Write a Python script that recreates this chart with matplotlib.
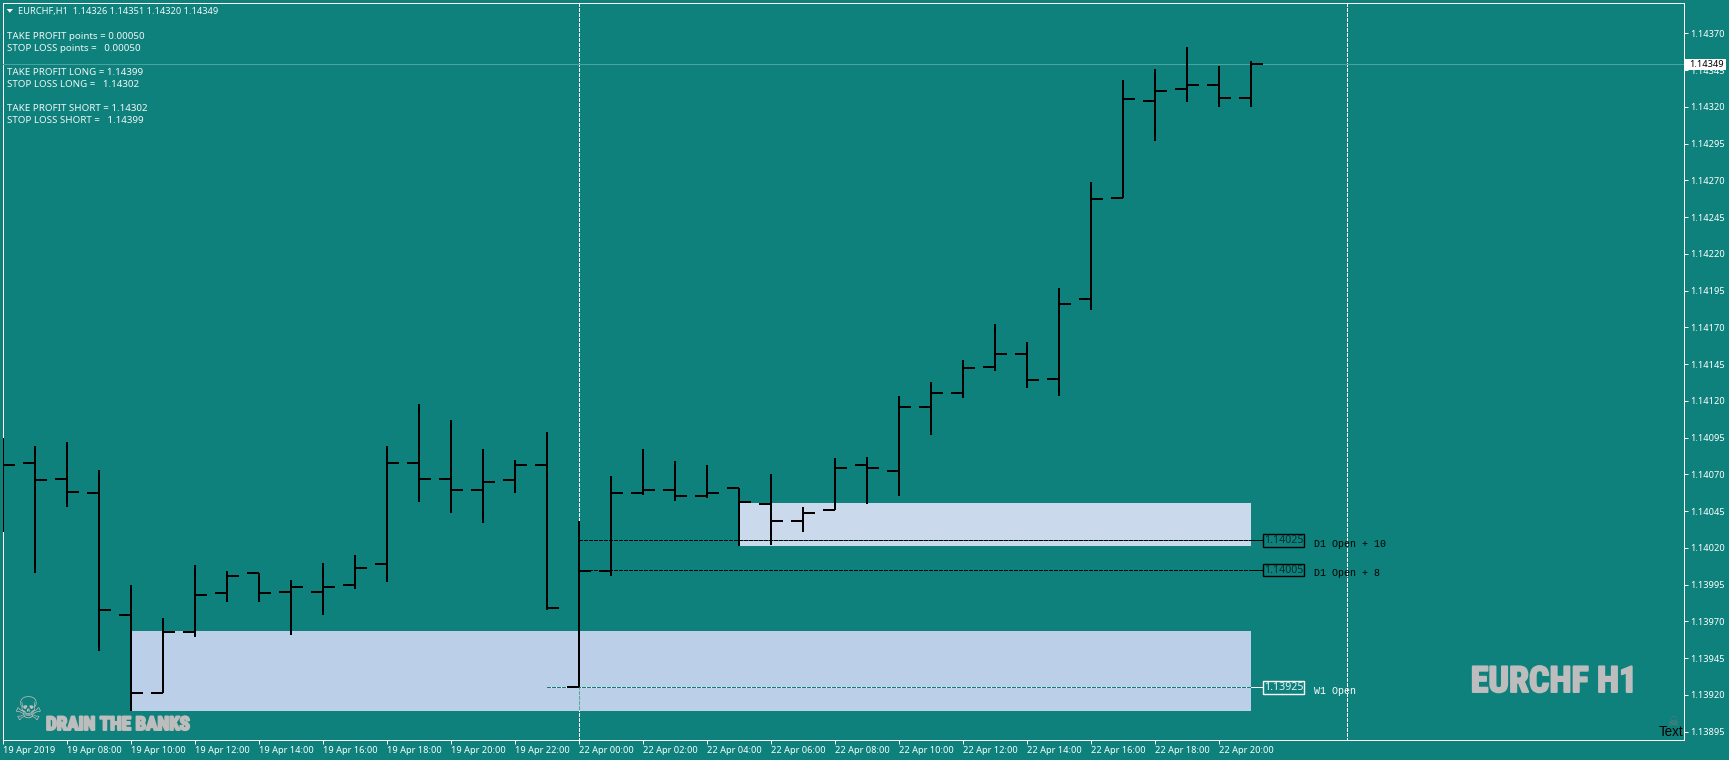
#!/usr/bin/env python
# -*- coding: utf-8 -*-
import matplotlib
matplotlib.use('Agg')
import matplotlib.pyplot as plt
from matplotlib.patches import Rectangle, Polygon
from matplotlib.transforms import Affine2D
import matplotlib.patheffects as pe

W, H = 1729, 760

# hourly bars, 19 Apr 06:00 onwards (weekend gap skipped)
opens = [1.14076, 1.14078, 1.14067, 1.14057, 1.13974, 1.13921, 1.13963, 1.13989, 1.14003, 1.13990,
         1.13990, 1.13995, 1.14009, 1.14078, 1.14067, 1.14059, 1.14066, 1.14076, 1.13925, 1.14004,
         1.14057, 1.14059, 1.14055, 1.14061, 1.14050, 1.14038, 1.14046, 1.14076, 1.14072, 1.14116,
         1.14125, 1.14143, 1.14152, 1.14135, 1.14189, 1.14258, 1.14324, 1.14332, 1.14335, 1.14326]
highs = [1.14095, 1.14089, 1.14092, 1.14073, 1.13995, 1.13972, 1.14008, 1.14004, 1.14003, 1.13998,
         1.14010, 1.14015, 1.14089, 1.14118, 1.14107, 1.14087, 1.14080, 1.14099, 1.14038, 1.14069,
         1.14087, 1.14079, 1.14076, 1.14061, 1.14070, 1.14048, 1.14081, 1.14082, 1.14123, 1.14133,
         1.14148, 1.14172, 1.14160, 1.14197, 1.14269, 1.14338, 1.14346, 1.14361, 1.14348, 1.14351]
lows = [1.14031, 1.14003, 1.14048, 1.13950, 1.13909, 1.13921, 1.13959, 1.13983, 1.13983, 1.13961,
        1.13974, 1.13992, 1.13997, 1.14051, 1.14044, 1.14037, 1.14057, 1.13978, 1.13925, 1.14001,
        1.14056, 1.14052, 1.14054, 1.14021, 1.14022, 1.14031, 1.14046, 1.14050, 1.14055, 1.14097,
        1.14122, 1.14140, 1.14129, 1.14123, 1.14182, 1.14258, 1.14297, 1.14323, 1.14320, 1.14320]
closes = [1.14076, 1.14066, 1.14058, 1.13978, 1.13921, 1.13963, 1.13988, 1.14001, 1.13989, 1.13993,
          1.13993, 1.14006, 1.14078, 1.14067, 1.14059, 1.14065, 1.14076, 1.13979, 1.14004, 1.14057,
          1.14059, 1.14055, 1.14057, 1.14051, 1.14038, 1.14044, 1.14074, 1.14074, 1.14116, 1.14125,
          1.14142, 1.14152, 1.14134, 1.14186, 1.14257, 1.14325, 1.14331, 1.14335, 1.14326, 1.14349]

y_ticks = [1.14370, 1.14345, 1.14320, 1.14295, 1.14270, 1.14245, 1.14220, 1.14195, 1.14170, 1.14145,
           1.14120, 1.14095, 1.14070, 1.14045, 1.14020, 1.13995, 1.13970, 1.13945, 1.13920, 1.13895]
x_tick_pos = list(range(0, 40, 2))
x_tick_labels = ['19 Apr 2019', '19 Apr 08:00', '19 Apr 10:00', '19 Apr 12:00', '19 Apr 14:00',
                 '19 Apr 16:00', '19 Apr 18:00', '19 Apr 20:00', '19 Apr 22:00', '22 Apr 00:00',
                 '22 Apr 02:00', '22 Apr 04:00', '22 Apr 06:00', '22 Apr 08:00', '22 Apr 10:00',
                 '22 Apr 12:00', '22 Apr 14:00', '22 Apr 16:00', '22 Apr 18:00', '22 Apr 20:00']

# supply/demand zones: start bar, end bar, top, bottom
zone_low = (4, 39, 1.139635, 1.13909)
zone_high = (23, 39, 1.140505, 1.14021)

last_price = 1.14349
period_lines = [18, 42]

levels = [1.14025, 1.14005, 1.13925]
level_labels = ['D1 Open + 10', 'D1 Open + 8', 'W1 Open']
level_start = [18, 18, 17]

header = 'EURCHF,H1  1.14326 1.14351 1.14320 1.14349'
info_lines = [('TAKE PROFIT points = 0.00050', 36.5), ('STOP LOSS points =   0.00050', 48.5),
              ('TAKE PROFIT LONG = 1.14399', 72.5), ('STOP LOSS LONG =   1.14302', 84.5),
              ('TAKE PROFIT SHORT = 1.14302', 108.5), ('STOP LOSS SHORT =   1.14399', 120.5)]

BG = '#0e817c'
FG = '#f2f7f7'
GREY = '#bdbdbd'
UI_FONT = ['Noto Sans', 'DejaVu Sans']
PX = 0.72  # font px -> pt at dpi 100

# plot box in pixels (y down)
X0, X1, Y0, Y1 = 2.5, 1683.5, 2.5, 739.5


def _to_price(y):
    return 1.14370 - (y - 33.3) / 147000.0


def _to_bar(x):
    return (x - 3.0) / 32.0


fig = plt.figure(figsize=(W / 100.0, H / 100.0), dpi=100, facecolor=BG)
ax = fig.add_axes([X0 / W, 1 - Y1 / H, (X1 - X0) / W, (Y1 - Y0) / H], facecolor=BG)
ax.set_xlim(_to_bar(X0), _to_bar(X1))
ax.set_ylim(_to_price(Y1), _to_price(Y0))

# screen pixels, y down, for the chart furniture
px = Affine2D().scale(1, -1).translate(0, H)

for s in ax.spines.values():
    s.set_color('white')
    s.set_linewidth(0.72)

ax.yaxis.tick_right()
ax.set_yticks(y_ticks)
ax.set_yticklabels(['%.5f' % v for v in y_ticks], fontsize=9.2 * PX, family=UI_FONT, color=FG)
ax.set_xticks(x_tick_pos)
ax.set_xticklabels(x_tick_labels, fontsize=9.2 * PX, family=UI_FONT, color=FG, ha='left')
ax.tick_params(axis='both', colors='white', length=3, width=0.72, pad=2)

# period separators
for p in period_lines:
    ax.plot([p, p], [_to_price(Y0), _to_price(Y1)], color='white', lw=0.72,
            ls=(0, (4, 2)), antialiased=False, zorder=1)

# zones
for start, end, top, bottom, col in [zone_low + ('#bbcfe8',), zone_high + ('#cbd9ec',)]:
    ax.add_patch(Rectangle((start, bottom), end - start, top - bottom, fc=col, ec='none', zorder=2))
ax.plot([18, 18], [zone_low[2], zone_low[3]], color='#55ad93', lw=0.72, ls=(0, (4, 2)),
        antialiased=False, zorder=2.5)

# current price
ax.plot([_to_bar(X0), _to_bar(X1)], [last_price, last_price], color='#4aa3a0', lw=0.72,
        antialiased=False, zorder=3)

# level lines with their price boxes
for lev, lab, st in zip(levels, level_labels, level_start):
    dark = lab.startswith('D1')
    col = 'black' if dark else 'white'
    base = BG if dark else 'white'
    dash = 'black' if dark else BG
    ax.plot([st, 39], [lev, lev], color=base, lw=0.72, antialiased=False, zorder=3)
    ax.plot([st, 39], [lev, lev], color=dash, lw=0.72, ls=(0, (4, 2)), antialiased=False, zorder=3.1)
    ax.plot([39, _to_bar(1262)], [lev, lev], color=col, lw=0.72, antialiased=False, zorder=3.1)
    ypx = 33.3 + (1.14370 - lev) * 147000.0
    fig.add_artist(Rectangle((1262.5, ypx - 6), 41, 12.5, transform=px, fc='none', ec=col, lw=1.0))
    fig.text(1264, ypx + 0.5, '%.5f' % lev, transform=px, fontsize=10.6 * PX, family=UI_FONT,
             color='#02302e' if dark else '#e4f2f2', va='center', ha='left')
    fig.text(1314, ypx + 3.5, lab, transform=px, fontsize=10 * PX, family='Liberation Mono',
             color='black' if dark else 'white', va='center', ha='left')

# OHLC bars
bar_x = list(range(len(opens)))
ax.vlines(bar_x, lows, highs, color='black', lw=1.44, antialiased=False, zorder=5)
ax.hlines(opens, [x - 0.375 for x in bar_x], bar_x, color='black', lw=1.44, antialiased=False, zorder=5)
ax.hlines(closes, bar_x, [x + 0.375 for x in bar_x], color='black', lw=1.44, antialiased=False, zorder=5)

# top-left header and info text
fig.add_artist(Polygon([(6.7, 9), (13, 9), (9.8, 12.7)], closed=True, transform=px, fc='white', ec='none'))
fig.text(18.3, 11.4, header, transform=px, fontsize=9.3 * PX, family=UI_FONT, color=FG, va='center')
for txt, y in info_lines:
    fig.text(7.3, y, txt, transform=px, fontsize=9.75 * PX, family=UI_FONT, color=FG, va='center')

# last price tag
fig.add_artist(Rectangle((1685, 59), 41, 11, transform=px, fc='white', ec='none', zorder=6))
fig.text(1689.5, 64.5, '%.5f' % last_price, transform=px, fontsize=9.2 * PX, family=UI_FONT,
         color='black', va='center', zorder=7)

# watermarks
stroke = [pe.withStroke(linewidth=1.4, foreground=GREY)]
fig.text(1554, 692, 'EURCHF H1', transform=px, fontsize=36 * PX, family=['Roboto Condensed', 'Roboto'],
         stretch='condensed', weight='bold', color=GREY, ha='center', va='baseline', path_effects=stroke)
fig.text(46, 730, 'DRAIN THE BANKS', transform=px, fontsize=19 * PX, family=['Roboto Condensed', 'Roboto'],
         stretch='condensed', weight='bold', color=GREY, ha='left', va='baseline', path_effects=stroke)
fig.text(27.5, 711, '\u2620', transform=px, fontsize=32 * PX, family='DejaVu Sans', color=GREY,
         ha='center', va='center')
fig.text(1673, 723, '\u2620', transform=px, fontsize=13 * PX, family='DejaVu Sans', color='#5e7c7a',
         ha='center', va='center')
fig.text(1683, 735.5, 'Text', transform=px, fontsize=13.5 * PX, family='Liberation Sans', color='black',
         ha='right', va='baseline')

fig.savefig('out.png', dpi=100, facecolor=BG)
